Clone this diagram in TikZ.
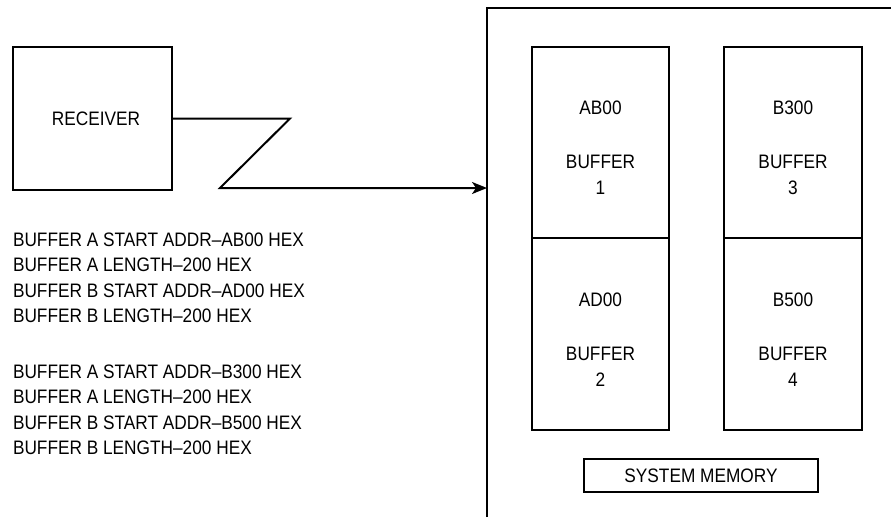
\documentclass[tikz,border=0pt]{standalone}
\usepackage{fontspec}
\setmainfont[FakeStretch=0.885]{Liberation Sans}
\usetikzlibrary{positioning,arrows.meta}

\begin{document}
\begin{tikzpicture}[x=1pt,y=-1pt,>={Stealth[length=15pt,width=12pt,inset=4pt]},line width=2pt,
  every node/.style={font=\fontsize{19.5}{26}\selectfont},
  blockbox/.style={draw,inner sep=0pt},
  bufbox/.style={draw,minimum width=137pt,minimum height=191pt,inner sep=0pt},
  buflabel/.style={align=center,inner sep=0pt}]
\useasboundingbox (0,0) rectangle (891,517);

\node[blockbox,minimum width=159pt,minimum height=143pt] (rcv) at (92.5,118.5) {\hspace*{7pt}RECEIVER};

% memory outline, cut by the page edge
\coordinate (memin) at (487,188);
\draw (487,517) -- (487,8) -- (891,8);

\draw[->] (rcv.east) -- ++(117,0) -- ++(-70,69.5) -- (memin);

\node[bufbox] (buf1) at (600.5,142.5) {};
\node[bufbox,minimum height=192pt] (buf2) at (600.5,334) {};
\node[bufbox,minimum width=138pt] (buf3) at (793,142.5) {};
\node[bufbox,minimum width=138pt,minimum height=192pt] (buf4) at (793,334) {};

\node[buflabel] (lab1) at ([yshift=-5.5pt]buf1.center) {AB00\\[28pt]BUFFER\\1};
\node[buflabel] (lab2) at ([yshift=-6pt]buf2.center) {AD00\\[28pt]BUFFER\\2};
\node[buflabel] (lab3) at ([yshift=-5.5pt]buf3.center) {B300\\[28pt]BUFFER\\3};
\node[buflabel] (lab4) at ([yshift=-6pt]buf4.center) {B500\\[28pt]BUFFER\\4};

\node[blockbox,minimum width=234pt,minimum height=33pt] (sysmem) at (701,475.5) {SYSTEM MEMORY};

\node[anchor=north west,align=left,inner sep=0pt,font=\fontsize{19.5}{25.3}\selectfont] (addr) at (12,232)
  {BUFFER A START ADDR--AB00 HEX\\
   BUFFER A LENGTH--200 HEX\\
   BUFFER B START ADDR--AD00 HEX\\
   BUFFER B LENGTH--200 HEX\\[30.7pt]
   BUFFER A START ADDR--B300 HEX\\
   BUFFER A LENGTH--200 HEX\\
   BUFFER B START ADDR--B500 HEX\\
   BUFFER B LENGTH--200 HEX};
\end{tikzpicture}
\end{document}
